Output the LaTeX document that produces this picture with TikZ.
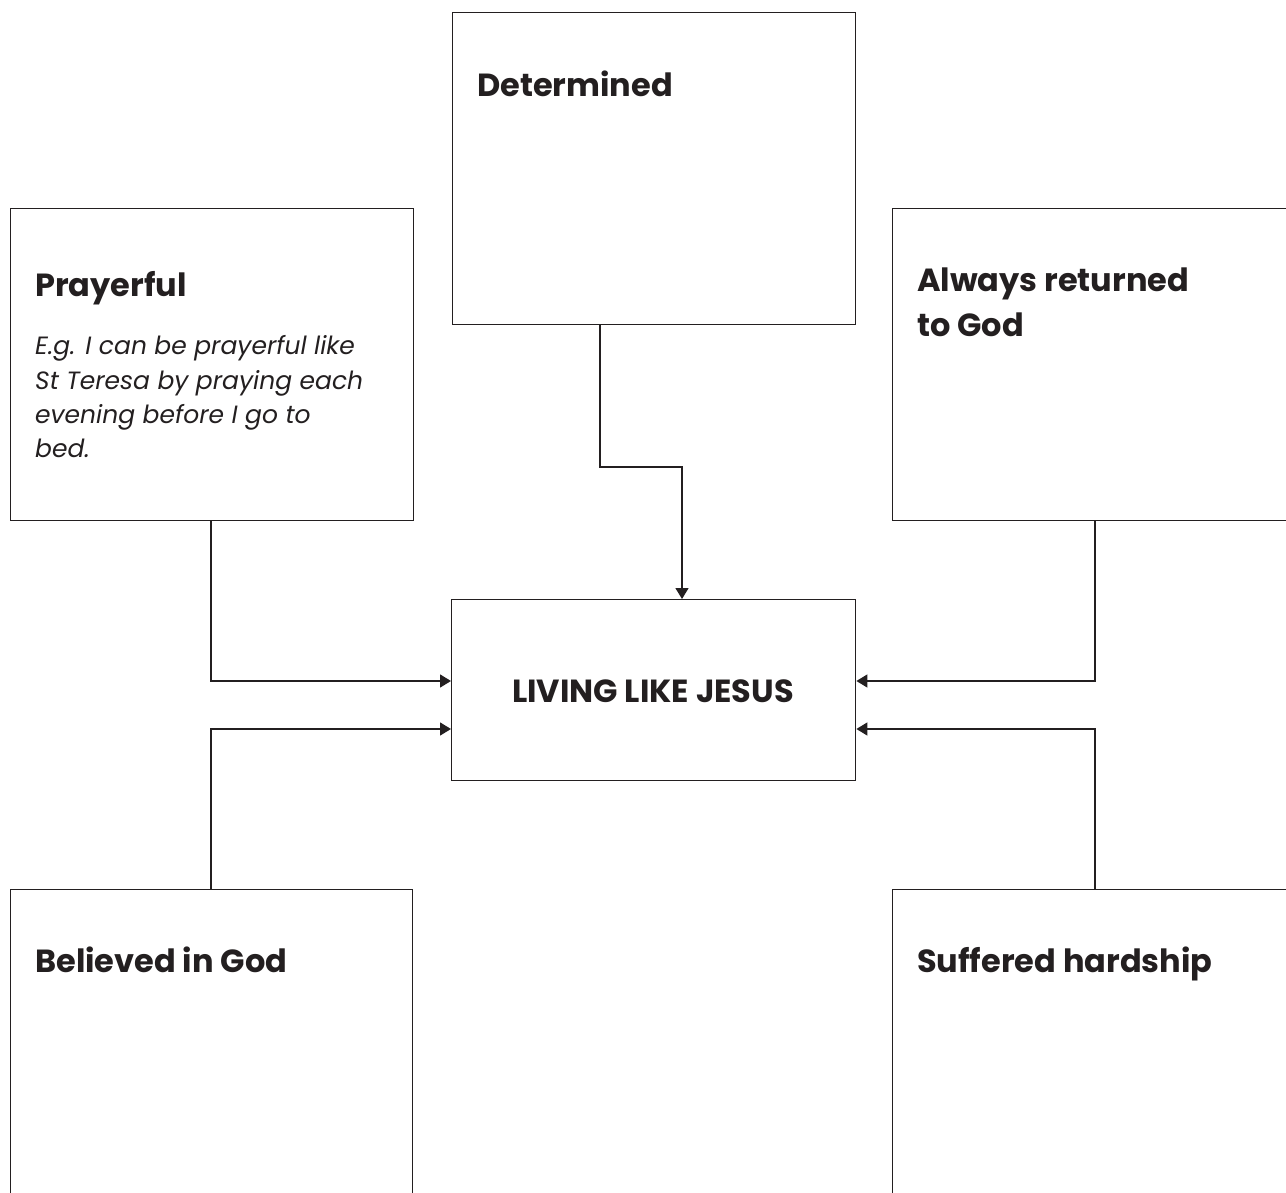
\documentclass[tikz,border=0pt]{standalone}
\usepackage{fontspec}
\setmainfont{Poppins}
\usetikzlibrary{arrows.meta}
\definecolor{ink}{HTML}{231F20}
\tikzset{
  box/.style={draw=ink, line width=1.4pt, rectangle, inner sep=0pt, anchor=north west},
  title/.style={anchor=base west, inner sep=0pt, text=ink, font=\fontsize{32}{38}\selectfont\bfseries},
  note/.style={anchor=base west, inner sep=0pt, text=ink, font=\fontsize{25}{30}\selectfont\itshape},
  link/.style={draw=ink, line width=1.4pt, -{Triangle[length=11pt,width=13pt]}}
}
\begin{document}
\begin{tikzpicture}[x=1pt,y=-1pt]
\useasboundingbox (0,0) rectangle (1286,1193);
% boxes
\node[box, minimum width=403pt, minimum height=312pt] (det) at (452,12) {};
\node[box, minimum width=403pt, minimum height=312pt] (pray) at (10,208) {};
\node[box, minimum width=400pt, minimum height=312pt] (alw) at (892,208) {};
\node[box, minimum width=404pt, minimum height=181pt] (ctr) at (451,599) {};
\node[box, minimum width=402pt, minimum height=320pt] (bel) at (10,889) {};
\node[box, minimum width=400pt, minimum height=320pt] (suf) at (892,889) {};
% texts
\node[title] (tdet) at (477,97) {Determined};
\node[title] (tpray) at (35,297) {Prayerful};
\node[note] (n1) at (35,354) {E.g. I can be prayerful like};
\node[note] (n2) at (35,389) {St Teresa by praying each};
\node[note] (n3) at (35,423) {evening before I go to};
\node[note] (n4) at (35,457) {bed.};
\node[title] (talw1) at (917,292) {Always returned};
\node[title] (talw2) at (917,336) {to God};
\node[title, anchor=base] (tctr) at (653,702) {LIVING LIKE JESUS};
\node[title] (tbel) at (35,972) {Believed in God};
\node[title] (tsuf) at (917,972) {Suffered hardship};
% connectors
\coordinate (ctrTop) at (682,599);
\draw[link] (det.south -| 600,0) -- (600,467) -- (682,467) -- (ctrTop);
\draw[link] (pray.south -| 211,0) -- (211,681) -- (ctr.west |- 0,681);
\draw[link] (bel.north -| 211,0) -- (211,729) -- (ctr.west |- 0,729);
\draw[link] (alw.south -| 1095,0) -- (1095,681) -- (ctr.east |- 0,681);
\draw[link] (suf.north -| 1095,0) -- (1095,729) -- (ctr.east |- 0,729);
\end{tikzpicture}
\end{document}
